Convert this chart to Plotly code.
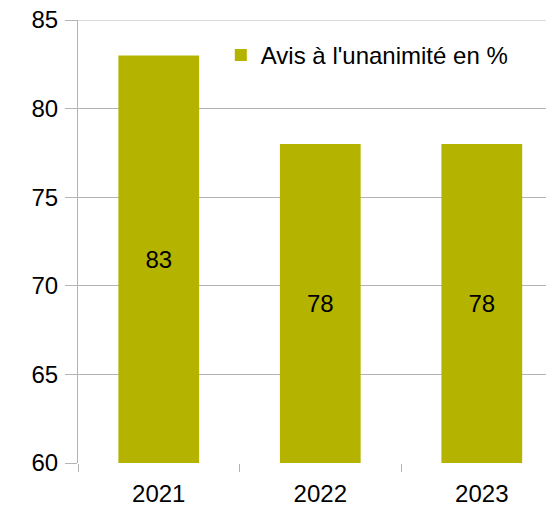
import plotly.graph_objects as go

years = ["2021", "2022", "2023"]
values = [83, 78, 78]
axis_min = 60
y_ticks = [60, 65, 70, 75, 80, 85]
series_name = "Avis à l'unanimité en %"
grid_color = "#b3b3b3"

fig = go.Figure()
fig.add_trace(go.Bar(
    x=years, y=[v - axis_min for v in values], base=axis_min, name=series_name,
    marker=dict(color="#b4b400", line=dict(width=0)),
    text=[str(v) for v in values], textposition="inside",
    insidetextanchor="middle", textangle=0,
    textfont=dict(family="Liberation Sans", size=24, color="black"),
    hovertemplate="%{x}: %{text}<extra></extra>",
    showlegend=True,
))

# top gridline (Plotly drops gridlines lying on the plot edge)
fig.add_shape(type="line", xref="paper", yref="y",
              x0=-12 / 476, x1=1, y0=y_ticks[-1], y1=y_ticks[-1],
              line=dict(color=grid_color, width=1), layer="below")

fig.update_layout(
    width=546, height=501,
    margin=dict(l=70, r=0, t=12, b=46, autoexpand=False),
    paper_bgcolor="white", plot_bgcolor="white",
    bargap=0.5,
    font=dict(family="Liberation Sans", size=24, color="black"),
    showlegend=True,
    legend=dict(x=0.30, y=0.971, xanchor="left", yanchor="top",
                bgcolor="rgba(0,0,0,0)", font=dict(size=24)),
    xaxis=dict(type="category", range=[-0.5, 2.447], tickson="boundaries",
               ticks="outside", ticklen=8, tickcolor=grid_color,
               ticklabelstandoff=14,
               showgrid=False, showline=False, zeroline=False,
               automargin=False),
    yaxis=dict(range=[60, 85], tickvals=y_ticks,
               ticks="outside", ticklen=12, tickcolor=grid_color,
               ticklabelstandoff=2, ticklabeloverflow="allow",
               showgrid=True, gridcolor=grid_color, gridwidth=1,
               showline=True, linecolor=grid_color, linewidth=1,
               zeroline=False, automargin=False),
)
fig.write_html("out.html")
